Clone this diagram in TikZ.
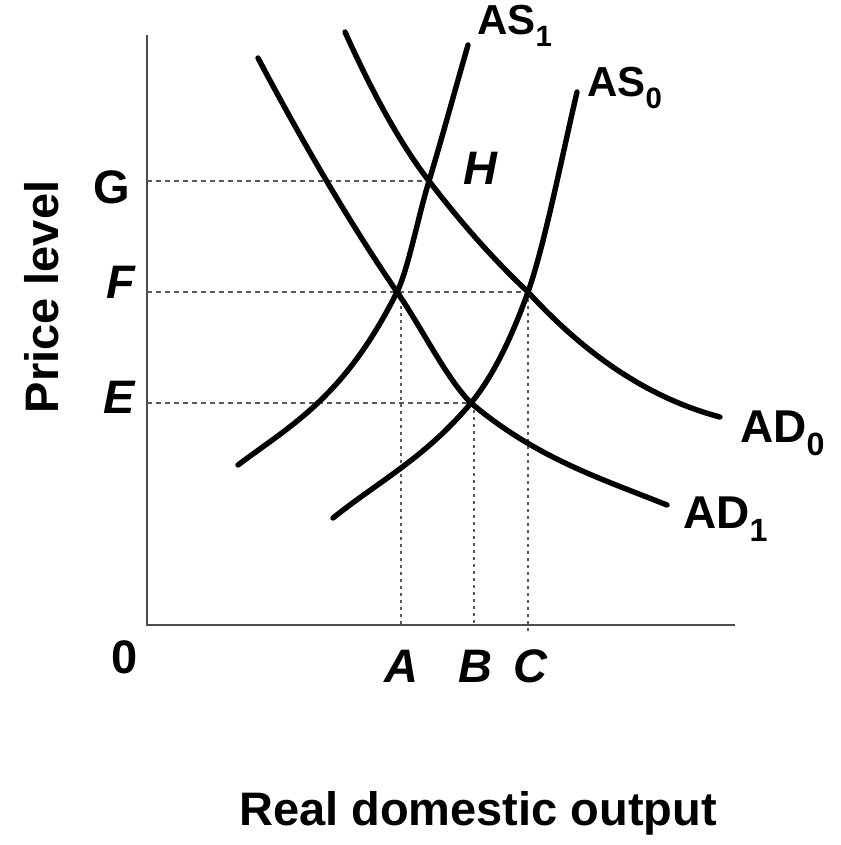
\documentclass[tikz,border=0pt]{standalone}
\usepackage{fontspec}
\setmainfont{Liberation Sans}

\tikzset{
  curve/.style={line width=5.4pt,line cap=round,line join=round},
  axisline/.style={line width=2pt,black!70},
  guide/.style={line width=1.6pt,black!65,dash pattern=on 5pt off 4pt},
  vguide/.style={line width=1.6pt,black!65,dash pattern=on 3pt off 4pt},
  lab/.style={inner sep=0pt,anchor=base,font=\fontsize{47}{47}\selectfont\bfseries},
  cur/.style={inner sep=0pt,anchor=base west,font=\fontsize{#1}{#1}\selectfont\bfseries}
}

\begin{document}
\begin{tikzpicture}[x=1pt,y=-1pt]
\useasboundingbox (0,0) rectangle (840,845);

% axes
\coordinate (O) at (147,625);
\coordinate (ytop) at (147,35);
\coordinate (xend) at (735,625);
\draw[axisline] (ytop) -- (O) -- (xend);

% equilibrium points
\coordinate (pH) at (429,181);
\coordinate (pF) at (397,292);
\coordinate (pC) at (528,292);
\coordinate (pE) at (471,403);

% guides
\draw[guide] (pH -| O) -- (pH);
\draw[guide] (pF -| O) -- (pC);
\draw[guide] (pE -| O) -- (pE);
\draw[vguide] (pF) ++(4,0) coordinate (qA) -- (qA |- O);
\draw[vguide] (pE) ++(3,0) coordinate (qB) -- (qB |- O);
\draw[vguide] (pC) -- ([yshift=-8pt]pC |- O);

% curve ends
\coordinate (ad1a) at (258,58);  \coordinate (ad1b) at (667,505);
\coordinate (ad0a) at (345,32);  \coordinate (ad0b) at (720,417);
\coordinate (as1a) at (238,465); \coordinate (as1b) at (468,45);
\coordinate (as0a) at (333,518); \coordinate (as0b) at (577,92);

% demand
\draw[curve] (ad1a) .. controls (304,145) and (351,225) .. (pF)
  .. controls (422,328) and (446,378) .. (pE)
  .. controls (536,458) and (602,479) .. (ad1b);
\draw[curve] (ad0a) .. controls (373,94) and (401,145) .. (pH)
  .. controls (462,224) and (495,261) .. (pC)
  .. controls (592,362) and (656,400) .. (ad0b);
% supply
\draw[curve] (as1a) .. controls (291,425) and (344,398) .. (pF)
  .. controls (408,270) and (418,217) .. (pH)
  .. controls (442,138) and (455,90) .. (as1b);
\draw[curve] (as0a) .. controls (379,481) and (425,458) .. (pE)
  .. controls (490,380) and (509,345) .. (pC)
  .. controls (544,247) and (561,161) .. (as0b);

% labels
\node[cur=42] (as1) at (477,35) {AS\textsubscript{1}};
\node[cur=42] (as0) at (587,97) {AS\textsubscript{0}};
\node[cur=46] (ad0) at (740,442) {AD\textsubscript{0}};
\node[cur=46] (ad1) at (683,528) {AD\textsubscript{1}};
\node[lab] (lH) at (480,185) {\itshape H};
\node[lab] (lG) at (112,203) {G};
\node[lab] (lF) at (121,298) {\itshape F};
\node[lab] (lE) at (119,413) {\itshape E};
\node[lab] (l0) at (125,673) {0};
\node[lab] (lA) at (401,682) {\itshape A};
\node[lab] (lB) at (475,682) {\itshape B};
\node[lab] (lC) at (530,682) {\itshape C};
\node[lab] (xlab) at (478,825) {Real domestic output};
\node[lab,anchor=center,rotate=90] (ylab) at (42,297) {Price level};
\end{tikzpicture}
\end{document}
